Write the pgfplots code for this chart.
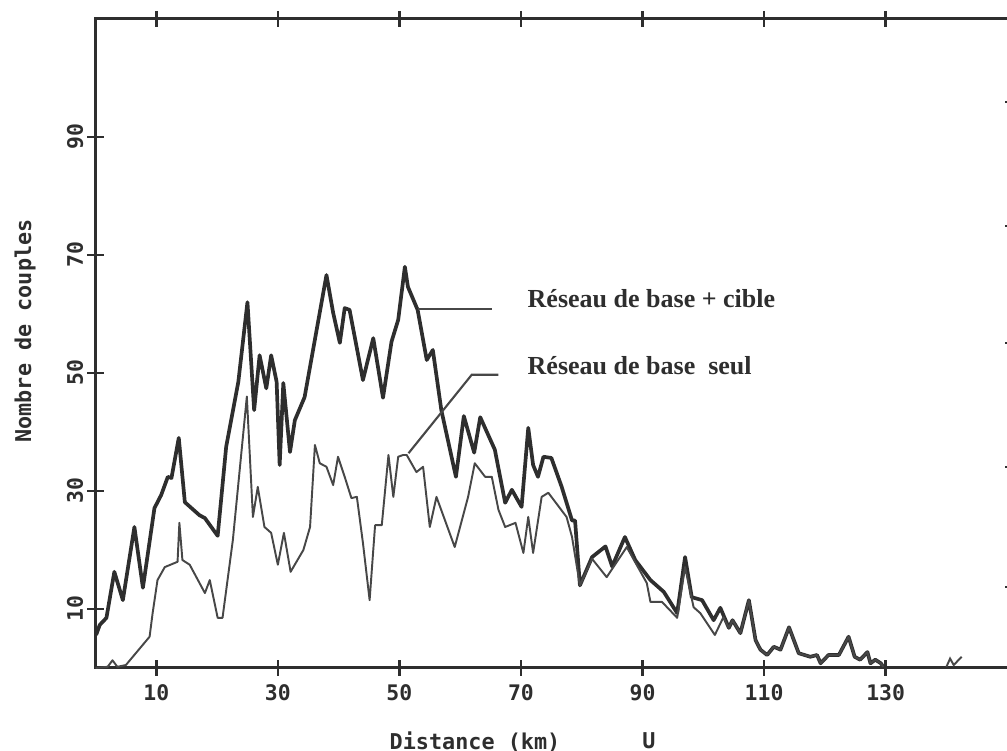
\documentclass[border=0pt]{standalone}
\usepackage{pgfplots}
\pgfplotsset{compat=1.18}
\usepackage{pgfplotstable}
\usepackage{fontspec}
\newfontfamily\monob{DejaVu Sans Mono}
\newfontfamily\legserif{Liberation Serif}
\definecolor{ink}{HTML}{2E2E2E}
\definecolor{inkthin}{HTML}{474747}
\newcommand{\tickf}{\monob\bfseries\fontsize{6.1}{6}\selectfont}
\newcommand{\labf}{\monob\bfseries\fontsize{6.2}{7}\selectfont}
\newcommand{\legf}{\legserif\bfseries\fontsize{7.4}{8}\selectfont}

% Réseau de base + cible
\pgfplotstableread{
x y
0.1 5.6
0.7 7.3
1.8 8.5
3.1 16.3
4.5 11.5
6.4 23.9
7.8 13.6
9.7 27.1
10.8 29.3
11.9 32.4
12.5 32.2
13.7 39.0
14.7 28.1
17.1 25.9
18.0 25.4
20.1 22.4
21.5 37.5
23.5 48.5
25.0 62.0
26.1 43.7
27.0 53.0
28.1 47.4
28.9 53.0
29.8 48.5
30.3 34.4
30.9 48.3
32.0 36.6
32.8 42.0
34.4 45.9
38.0 66.6
39.1 60.2
40.2 55.1
41.0 61.0
41.8 60.7
44.0 48.8
45.7 55.9
47.3 45.8
48.7 55.3
49.8 59.0
50.9 68.0
51.4 64.6
53.0 60.7
54.5 52.2
55.5 53.9
56.9 43.7
59.3 32.4
60.6 42.7
62.3 36.5
63.3 42.5
65.7 37.0
67.4 28.0
68.5 30.2
70.1 27.3
71.2 40.7
72.0 34.4
72.8 32.4
73.7 35.8
75.0 35.6
76.7 30.7
78.4 25.0
78.9 25.0
79.7 14.0
81.7 18.8
83.9 20.6
85.0 17.2
87.1 22.2
88.8 18.3
91.3 14.9
93.5 12.9
95.7 9.3
97.0 18.8
98.1 12.0
99.8 11.5
101.7 8.1
102.8 10.2
104.2 6.8
104.8 8.1
106.1 5.9
107.5 11.5
108.6 4.7
109.4 3.1
110.5 2.2
111.6 3.6
112.7 3.1
114.1 6.9
115.7 2.5
117.6 1.9
118.7 2.2
119.3 0.8
120.6 2.2
122.3 2.2
123.9 5.3
124.9 1.9
125.8 1.4
127.0 2.7
127.5 0.8
128.3 1.4
129.2 0.8
129.6 0.2
}\avecCible

% Réseau de base seul
\pgfplotstableread{
x y
0.0 0.0
2.0 0.2
2.8 1.3
3.6 0.2
5.0 0.5
8.9 5.3
9.4 9.3
10.2 14.9
11.4 17.1
13.5 18.0
13.8 24.6
14.3 18.3
15.5 17.5
18.0 12.7
18.8 14.9
20.1 8.5
20.9 8.5
22.6 21.7
24.9 46.0
25.9 25.6
26.7 30.7
27.8 23.9
28.9 22.9
30.0 17.5
31.0 22.9
32.1 16.3
34.2 20.0
35.3 23.9
36.1 37.8
36.9 34.7
38.0 34.1
39.1 31.0
39.9 35.8
41.0 32.4
42.1 28.8
43.0 29.0
44.0 21.2
45.1 11.5
45.7 20.0
46.0 24.2
47.1 24.2
48.2 36.1
49.0 29.0
49.8 35.8
50.6 36.1
51.2 36.1
52.8 33.2
53.9 34.1
55.0 23.9
56.1 29.0
59.1 20.5
61.3 29.0
62.4 34.7
64.1 32.4
65.2 32.4
66.3 26.8
67.4 23.9
69.1 24.6
70.4 19.5
71.2 25.6
72.0 19.5
73.4 29.0
74.5 29.7
77.5 25.6
78.4 22.2
79.7 14.0
81.7 18.5
84.1 15.4
87.4 20.5
90.7 14.4
91.3 11.2
93.2 11.2
95.7 8.5
97.0 17.1
98.4 10.3
99.5 9.3
101.9 5.6
103.3 8.6
104.2 6.8
104.8 8.1
106.1 5.9
107.5 11.5
108.6 4.7
109.4 3.1
110.5 2.2
111.6 3.6
112.7 3.1
114.1 6.9
115.7 2.5
117.6 1.9
118.7 2.2
119.3 0.8
120.6 2.2
122.3 2.2
123.9 5.3
124.9 1.9
125.8 1.4
127.0 2.7
127.5 0.8
128.3 1.4
129.2 0.8
129.6 0.2
}\seul

\begin{document}
\begin{tikzpicture}
\begin{axis}[
  at={(9.55mm,8.3mm)}, anchor=south west,
  scale only axis, width=91.78mm, height=64.9mm,
  xmin=0, xmax=151, ymin=0, ymax=110,
  axis line style={ink, line width=0.85pt},
  xtick={10,30,...,130}, xticklabels={10,30,50,70,90,110,130},
  ytick={10,30,...,90}, yticklabels={10,30,50,70,90},
  ytick pos=left,
  tick align=center, major tick length=1.6mm,
  tick style={ink, line width=0.7pt},
  xticklabel style={font=\tickf, text=ink, anchor=center, yshift=-1.65mm},
  yticklabel style={font=\tickf, text=ink, xshift=-1.25mm, rotate=90, anchor=center},
  clip=false,
]
\addplot[ink, line width=1.05pt, line join=round] table {\avecCible};
\addplot[inkthin, line width=0.55pt, line join=round] table {\seul};
\addplot[inkthin, line width=0.55pt] coordinates {(140.0,0.2) (140.6,1.6) (141.2,0.5) (142.5,1.9)};
% leader lines to the two series names
\draw[inkthin, line width=0.6pt] (axis cs:53.1,60.8) -- (axis cs:65.2,60.8);
\draw[inkthin, line width=0.6pt] (axis cs:51.5,36.4) -- (axis cs:61.9,49.7) -- (axis cs:66.3,49.7);
\end{axis}
% ticks of the right-hand frame
\begin{axis}[
  at={(9.55mm,8.3mm)}, anchor=south west,
  scale only axis, width=91.78mm, height=64.9mm,
  xmin=0, xmax=151, ymin=0, ymax=110,
  axis x line=none, axis y line*=right,
  axis line style={ink, line width=0.85pt},
  ytick={13.7,34.1,55.1,74.9,95.9}, yticklabels={},
  tick align=center, major tick length=1.6mm,
  tick style={ink, line width=0.7pt},
]
\addplot[draw=none] coordinates {(0,0)};
\end{axis}
\begin{scope}[shift={(0,75.1mm)}, x=0.1mm, y=-0.1mm]
  \node[rotate=90, text=ink, inner sep=0] at (25,331) {\labf Nombre de couples};
  \node[text=ink, inner sep=0] at (475,742) {\labf Distance (km)};
  \node[text=ink, inner sep=0] at (649,741) {\labf U};
  \node[text=ink, inner sep=0, anchor=base west] at (527,308) {\legf Réseau de base + cible};
  \node[text=ink, inner sep=0, anchor=base west] at (527,375) {\legf Réseau de base\ \ seul};
\end{scope}
\pgfresetboundingbox
\path[use as bounding box] (0,0) rectangle (100.7mm,75.1mm);
\end{tikzpicture}
\end{document}
